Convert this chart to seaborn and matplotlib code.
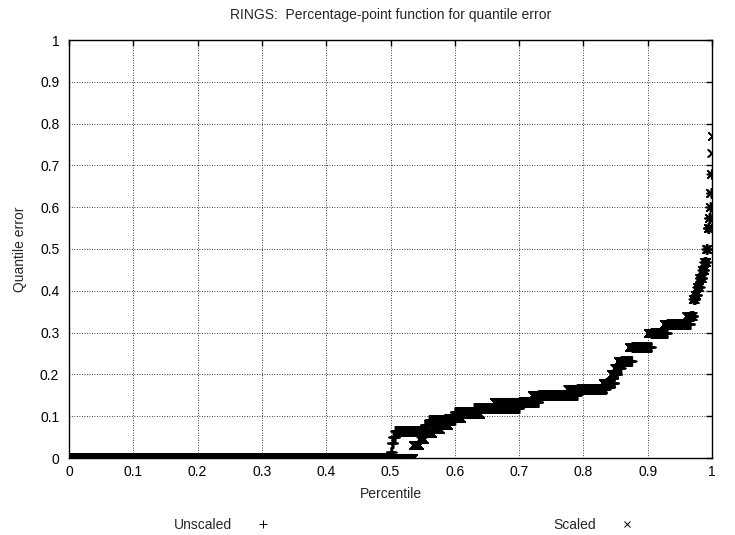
import numpy as np
import pandas as pd
import matplotlib
matplotlib.use("Agg")
import matplotlib.pyplot as plt
from matplotlib.lines import Line2D
import seaborn as sns

# ---- data (percentage-point function as step levels) ----
n_samples = 4177  # abalone RINGS sample size

# Unscaled: error level, and the percentile where that level ends
unscaled_levels = [0.0, 0.015, 0.035, 0.05, 0.065, 0.078, 0.09, 0.11, 0.12, 0.135,
                   0.15, 0.165, 0.18, 0.20, 0.215, 0.232, 0.265, 0.30, 0.32, 0.34,
                   0.38, 0.39, 0.41, 0.43, 0.45, 0.47, 0.50, 0.55, 0.575, 0.60,
                   0.635, 0.68]
unscaled_ends = [0.500, 0.502, 0.504, 0.507, 0.553, 0.560, 0.600, 0.630, 0.700, 0.730,
                 0.790, 0.835, 0.848, 0.853, 0.858, 0.875, 0.905, 0.930, 0.966, 0.971,
                 0.974, 0.977, 0.981, 0.985, 0.988, 0.991, 0.993, 0.995, 0.997, 0.998,
                 0.999, 1.000]

# Scaled
scaled_levels = [0.0, 0.03, 0.045, 0.06, 0.07, 0.08, 0.095, 0.105, 0.12, 0.135,
                 0.15, 0.165, 0.18, 0.20, 0.215, 0.233, 0.265, 0.30, 0.32, 0.34,
                 0.38, 0.39, 0.41, 0.43, 0.45, 0.47, 0.50, 0.55, 0.575, 0.60,
                 0.635, 0.68, 0.73, 0.77]
scaled_ends = [0.535, 0.545, 0.552, 0.565, 0.577, 0.590, 0.610, 0.640, 0.660, 0.720,
               0.775, 0.830, 0.843, 0.848, 0.853, 0.870, 0.900, 0.925, 0.960, 0.970,
               0.973, 0.976, 0.980, 0.984, 0.988, 0.991, 0.993, 0.995, 0.996, 0.997,
               0.998, 0.999, 0.9995, 1.000]

x_ticks = [0, 0.1, 0.2, 0.3, 0.4, 0.5, 0.6, 0.7, 0.8, 0.9, 1]
y_ticks = [0, 0.1, 0.2, 0.3, 0.4, 0.5, 0.6, 0.7, 0.8, 0.9, 1]
tick_labels = ["0", "0.1", "0.2", "0.3", "0.4", "0.5", "0.6", "0.7", "0.8", "0.9", "1"]

title = "RINGS:  Percentage-point function for quantile error"
series_names = ["Unscaled", "Scaled"]


def ppf_frame(levels, ends, name):
    pct = np.arange(n_samples) / (n_samples - 1)
    idx = np.minimum(np.searchsorted(np.asarray(ends), pct, side="left"), len(levels) - 1)
    err = np.asarray(levels)[idx]
    return pd.DataFrame({"Percentile": pct, "Quantile error": err, "series": name})


df_u = ppf_frame(unscaled_levels, unscaled_ends, series_names[0])
df_s = ppf_frame(scaled_levels, scaled_ends, series_names[1])

# ---- style ----
sns.set_style("white")
plt.rcParams["font.family"] = ["Liberation Sans", "DejaVu Sans"]
plt.rcParams["font.size"] = 10

fig = plt.figure(figsize=(7.35, 5.35), dpi=100)
ax = fig.add_axes([69 / 735, 1 - 458 / 535, (712 - 69) / 735, (458 - 40) / 535])

sns.scatterplot(data=df_u, x="Percentile", y="Quantile error", marker="+",
                color="black", s=45, linewidth=1.0, ax=ax, legend=False, zorder=3)
sns.scatterplot(data=df_s, x="Percentile", y="Quantile error", marker="x",
                color="black", s=34, linewidth=1.0, ax=ax, legend=False, zorder=3)

ax.set_xlim(0, 1)
ax.set_ylim(0, 1)
ax.set_xticks(x_ticks)
ax.set_xticklabels(tick_labels)
ax.set_yticks(y_ticks)
ax.set_yticklabels(tick_labels)
ax.tick_params(direction="in", top=True, right=True, length=4, width=1,
               colors="black", labelsize=10)
ax.tick_params(axis="x", pad=5)
ax.tick_params(axis="y", pad=7)
ax.grid(True, color="black", linestyle=(0, (1, 2)), linewidth=0.6)
for sp in ax.spines.values():
    sp.set_color("black")
    sp.set_linewidth(1.0)

ax.set_xlabel("Percentile", fontsize=10, labelpad=6)
ax.set_ylabel("Quantile error", fontsize=10, labelpad=9)
ax.set_title(title, fontsize=10, pad=15)

handles = [Line2D([], [], marker="+", color="black", linestyle="", markersize=6, mew=0.7),
           Line2D([], [], marker="x", color="black", linestyle="", markersize=5, mew=0.7)]
fig.legend(handles, series_names, loc="center", bbox_to_anchor=(404 / 735, 1 - 525 / 535),
           ncol=2, frameon=False, markerfirst=False, handlelength=1.0,
           handletextpad=1.73, columnspacing=20.4, borderpad=0, fontsize=10)

fig.savefig("out.png", dpi=100)
